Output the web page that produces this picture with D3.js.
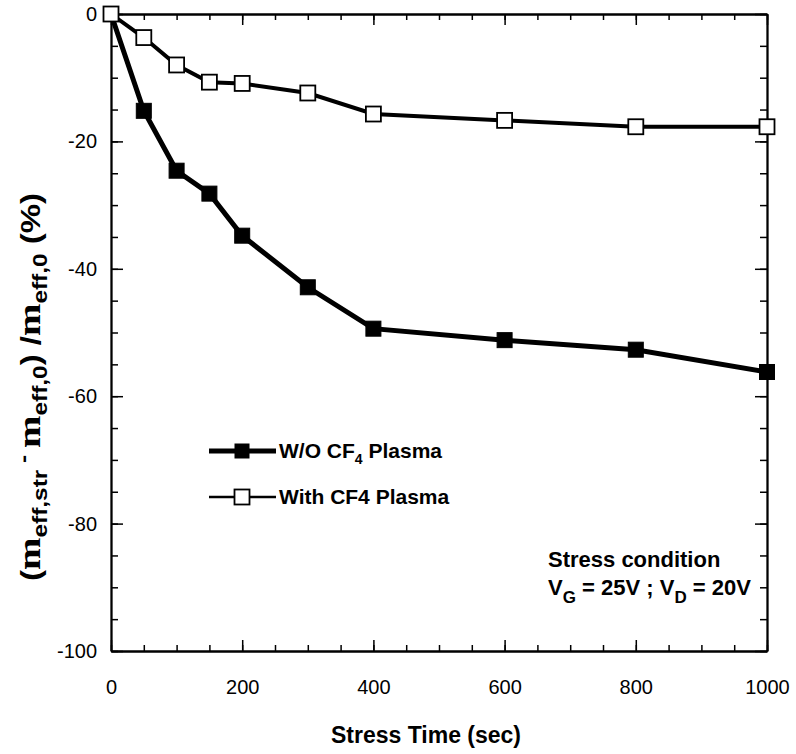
<!DOCTYPE html>
<html>
<head>
<meta charset="utf-8">
<script src="https://cdnjs.cloudflare.com/ajax/libs/d3/7.8.5/d3.min.js"></script>
<style>
  body { margin: 0; background: #fff; }
  svg text { font-family: Arial, "Liberation Sans", sans-serif; }
</style>
</head>
<body>
<svg id="chart" width="796" height="754"></svg>
<script>
// Data
var stressTime = [0, 50, 100, 150, 200, 300, 400, 600, 800, 1000];
var woPlasma   = [0, -15.2, -24.6, -28.2, -34.8, -42.9, -49.4, -51.2, -52.7, -56.2];
var withPlasma = [0, -3.7, -8.0, -10.7, -10.9, -12.4, -15.7, -16.7, -17.7, -17.7];
var xMajor = [0, 200, 400, 600, 800, 1000];
var yMajor = [-100, -80, -60, -40, -20, 0];
var xMinor = d3.range(0, 1001, 50);
var yMinor = d3.range(-100, 1, 5);

var svg = d3.select("#chart");
var L = 111, R = 767, T = 14, B = 651;

var x = d3.scaleLinear().domain([0, 1000]).range([L, R]);
var y = d3.scaleLinear().domain([-100, 0]).range([B, T]);
var plain = function(d) { return String(d); };

// axes: minor ticks first, then majors with labels
function styleAxis(g) {
    g.select(".domain").attr("stroke", "#000").attr("stroke-width", 1.8);
    g.selectAll(".tick line").attr("stroke", "#000").attr("stroke-width", 1.5);
    g.selectAll("text").attr("fill", "#000").style("font-size", "20px");
}

svg.append("g").attr("transform", "translate(0," + B + ")")
    .call(d3.axisBottom(x).tickValues(xMinor).tickSizeInner(-6).tickSizeOuter(0).tickFormat(""))
    .call(styleAxis);
svg.append("g").attr("transform", "translate(0," + B + ")")
    .call(d3.axisBottom(x).tickValues(xMajor).tickSizeInner(-11).tickSizeOuter(0).tickPadding(29).tickFormat(plain))
    .call(styleAxis);
svg.append("g").attr("transform", "translate(0," + T + ")")
    .call(d3.axisTop(x).tickValues(xMinor).tickSizeInner(-6).tickSizeOuter(0).tickFormat(""))
    .call(styleAxis);
svg.append("g").attr("transform", "translate(0," + T + ")")
    .call(d3.axisTop(x).tickValues(xMajor).tickSizeInner(-11).tickSizeOuter(0).tickFormat(""))
    .call(styleAxis);

svg.append("g").attr("transform", "translate(" + L + ",0)")
    .call(d3.axisLeft(y).tickValues(yMinor).tickSizeInner(-7).tickSizeOuter(0).tickFormat(""))
    .call(styleAxis);
svg.append("g").attr("transform", "translate(" + L + ",0)")
    .call(d3.axisLeft(y).tickValues(yMajor).tickSizeInner(-12).tickSizeOuter(0).tickPadding(14).tickFormat(plain))
    .call(styleAxis);
svg.append("g").attr("transform", "translate(" + R + ",0)")
    .call(d3.axisRight(y).tickValues(yMinor).tickSizeInner(-7).tickSizeOuter(0).tickFormat(""))
    .call(styleAxis);
svg.append("g").attr("transform", "translate(" + R + ",0)")
    .call(d3.axisRight(y).tickValues(yMajor).tickSizeInner(-12).tickSizeOuter(0).tickFormat(""))
    .call(styleAxis);

// series
var line = d3.line()
    .x(function(d) { return x(d[0]); })
    .y(function(d) { return y(d[1]); });

var withPts = stressTime.map(function(t, i) { return [t, withPlasma[i]]; });
var woPts = stressTime.map(function(t, i) { return [t, woPlasma[i]]; });

svg.append("path").datum(withPts)
    .attr("d", line).attr("fill", "none").attr("stroke", "#000").attr("stroke-width", 4);
svg.append("path").datum(woPts)
    .attr("d", line).attr("fill", "none").attr("stroke", "#000").attr("stroke-width", 5);

var MS = 15;
svg.selectAll(".mwo").data(woPts).enter().append("rect")
    .attr("class", "mwo")
    .attr("x", function(d) { return x(d[0]) - MS / 2; })
    .attr("y", function(d) { return y(d[1]) - MS / 2; })
    .attr("width", MS).attr("height", MS)
    .attr("fill", "#000").attr("stroke", "#000").attr("stroke-width", 1);
svg.selectAll(".mwith").data(withPts).enter().append("rect")
    .attr("class", "mwith")
    .attr("x", function(d) { return x(d[0]) - MS / 2; })
    .attr("y", function(d) { return y(d[1]) - MS / 2; })
    .attr("width", MS).attr("height", MS)
    .attr("fill", "#fff").attr("stroke", "#000").attr("stroke-width", 1.8);

// legend
var lg = svg.append("g").attr("transform", "translate(209,0)");
lg.append("line").attr("x1", 0).attr("x2", 67).attr("y1", 451).attr("y2", 451)
    .attr("stroke", "#000").attr("stroke-width", 5);
lg.append("rect").attr("x", 33 - MS / 2).attr("y", 451 - MS / 2).attr("width", MS).attr("height", MS)
    .attr("fill", "#000");
var t1 = lg.append("text").attr("x", 70).attr("y", 458)
    .style("font-size", "21px").style("font-weight", "bold");
t1.append("tspan").text("W/O CF");
t1.append("tspan").attr("dy", 6).style("font-size", "14px").text("4");
t1.append("tspan").attr("dy", -6).text(" Plasma");

lg.append("line").attr("x1", 0).attr("x2", 67).attr("y1", 497).attr("y2", 497)
    .attr("stroke", "#000").attr("stroke-width", 2.5);
lg.append("rect").attr("x", 33 - MS / 2).attr("y", 497 - MS / 2).attr("width", MS).attr("height", MS)
    .attr("fill", "#fff").attr("stroke", "#000").attr("stroke-width", 1.8);
lg.append("text").attr("x", 70).attr("y", 504)
    .style("font-size", "21px").style("font-weight", "bold").text("With CF4 Plasma");

// annotation
svg.append("text").attr("x", 548).attr("y", 567)
    .style("font-size", "22px").style("font-weight", "bold").text("Stress condition");
var ann = svg.append("text").attr("x", 548).attr("y", 595)
    .style("font-size", "22px").style("font-weight", "bold");
ann.append("tspan").text("V");
ann.append("tspan").attr("dy", 8).style("font-size", "17px").text("G");
ann.append("tspan").attr("dy", -8).text(" = 25V ; V");
ann.append("tspan").attr("dy", 8).style("font-size", "17px").text("D");
ann.append("tspan").attr("dy", -8).text(" = 20V");

// axis titles
svg.append("text").attr("x", 426).attr("y", 743).attr("text-anchor", "middle")
    .style("font-size", "23px").style("font-weight", "bold").text("Stress Time (sec)");

// y title is stretched along its baseline, as in the original
var yl = svg.append("text")
    .attr("transform", "translate(40,387) rotate(-90) scale(1.22,1)")
    .attr("text-anchor", "middle")
    .style("font-size", "27px").style("font-weight", "bold");
function mGlyph(sel) {
    sel.append("tspan").style("font-family", "'Liberation Serif', 'Times New Roman', serif")
        .style("font-size", "32px").text("m");
}
yl.append("tspan").text("(");
mGlyph(yl);
yl.append("tspan").attr("dy", 7).style("font-size", "20px").text("eff,str");
yl.append("tspan").attr("dy", -17).style("font-size", "20px").text(" - ");
mGlyph(yl.append("tspan").attr("dy", 10));
yl.append("tspan").attr("dy", 7).style("font-size", "20px").text("eff,0");
yl.append("tspan").attr("dy", -7).text(") /");
mGlyph(yl);
yl.append("tspan").attr("dy", 7).style("font-size", "20px").text("eff,0");
yl.append("tspan").attr("dy", -7).text(" (%)");
</script>
</body>
</html>
